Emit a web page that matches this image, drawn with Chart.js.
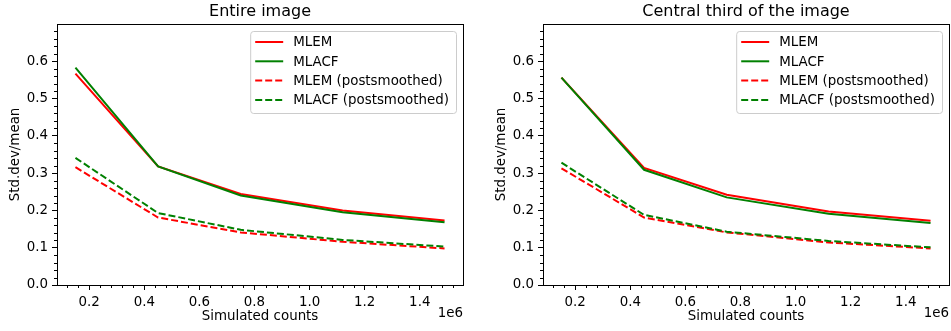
<!DOCTYPE html>
<html lang="en">
<head>
  <meta charset="UTF-8">
  <title>Std.dev/mean vs simulated counts</title>
  <script src="https://cdn.jsdelivr.net/npm/chart.js"></script>
  <style>
    body {
      margin: 0;
      background: #fff;
    }
    .panel {
      position: absolute;
      top: 0;
    }
  </style>
</head>
<body>

<div class="panel" style="left:0"><canvas id="chart1" width="480" height="331"></canvas></div>
<div class="panel" style="left:480px"><canvas id="chart2" width="471" height="331"></canvas></div>

<script>
  // x values: simulated counts
  const counts = [150000, 450000, 750000, 1120000, 1490000];

  // entire image
  const mlemEntire        = [0.567, 0.318, 0.244, 0.200, 0.173];
  const mlacfEntire       = [0.583, 0.318, 0.240, 0.195, 0.168];
  const mlemSmoothEntire  = [0.316, 0.181, 0.141, 0.116, 0.098];
  const mlacfSmoothEntire = [0.341, 0.193, 0.148, 0.121, 0.103];

  // central third of the image
  const mlemCentral        = [0.556, 0.314, 0.242, 0.197, 0.172];
  const mlacfCentral       = [0.556, 0.309, 0.235, 0.191, 0.166];
  const mlemSmoothCentral  = [0.313, 0.181, 0.141, 0.114, 0.098];
  const mlacfSmoothCentral = [0.328, 0.188, 0.143, 0.118, 0.101];

  const seriesNames = ["MLEM", "MLACF", "MLEM (postsmoothed)", "MLACF (postsmoothed)"];
  const seriesColors = ["#ff0000", "#008000", "#ff0000", "#008000"];
  const seriesDashed = [false, false, true, true];

  const yMajorTicks = [0.0, 0.1, 0.2, 0.3, 0.4, 0.5, 0.6];
  const xMajorTicks = [0.2, 0.4, 0.6, 0.8, 1.0, 1.2, 1.4];

  const FONT = "'DejaVu Sans', sans-serif";
  const FS = 13.4;

  // box, minor ticks, title, offset text and legend, drawn like matplotlib
  const mplDecor = {
    id: "mplDecor",
    afterDraw(chart) {
      const ctx = chart.ctx;
      const a = chart.chartArea;
      const xs = chart.scales.x, ys = chart.scales.y;
      ctx.save();

      // minor ticks
      ctx.strokeStyle = "#000";
      ctx.lineWidth = 1;
      ctx.beginPath();
      for (let i = 2; i < 40; i++) {
        const v = i * 0.04;
        if (Math.abs(v / 0.2 - Math.round(v / 0.2)) < 1e-6) continue;
        if (v * 1e6 < xs.min || v * 1e6 > xs.max) continue;
        const px = Math.round(xs.getPixelForValue(v * 1e6)) + 0.5;
        ctx.moveTo(px, a.bottom);
        ctx.lineTo(px, a.bottom + 3);
      }
      for (let i = 1; i < 35; i++) {
        const v = i * 0.02;
        if (i % 5 === 0) continue;
        if (v > ys.max) continue;
        const py = Math.round(ys.getPixelForValue(v)) + 0.5;
        ctx.moveTo(a.left, py);
        ctx.lineTo(a.left - 3, py);
      }
      ctx.stroke();

      // axes box
      ctx.strokeStyle = "#000";
      ctx.lineWidth = 1;
      ctx.strokeRect(Math.round(a.left) + 0.5, Math.round(a.top) + 0.5,
        Math.round(a.right - a.left), Math.round(a.bottom - a.top));

      // title
      ctx.fillStyle = "#000";
      ctx.font = "16px " + FONT;
      ctx.textAlign = "center";
      ctx.textBaseline = "middle";
      ctx.fillText(chart.options.plugins.mplDecor.title, (a.left + a.right) / 2, 12);

      // offset text
      ctx.font = FS + "px " + FONT;
      ctx.textAlign = "right";
      ctx.fillText("1e6", a.right, 314);

      // legend
      ctx.font = FS + "px " + FONT;
      let tw = 0;
      seriesNames.forEach(n => { tw = Math.max(tw, ctx.measureText(n).width); });
      const bw = 43 + tw + 7;
      const bh = 82;
      const bx = a.right - 7 - bw;
      const by = a.top + 7;
      ctx.beginPath();
      ctx.roundRect(bx + 0.5, by + 0.5, bw, bh, 3);
      ctx.fillStyle = "rgba(255,255,255,0.8)";
      ctx.fill();
      ctx.strokeStyle = "#cccccc";
      ctx.lineWidth = 1;
      ctx.stroke();
      seriesNames.forEach((n, i) => {
        const ly = by + 11 + i * 19.3;
        ctx.beginPath();
        ctx.strokeStyle = seriesColors[i];
        ctx.lineWidth = 2;
        ctx.setLineDash(seriesDashed[i] ? [7, 3] : []);
        ctx.moveTo(bx + 5, ly);
        ctx.lineTo(bx + 33, ly);
        ctx.stroke();
        ctx.setLineDash([]);
        ctx.fillStyle = "#000";
        ctx.textAlign = "left";
        ctx.textBaseline = "middle";
        ctx.fillText(n, bx + 43, ly + 1);
      });

      ctx.restore();
    }
  };

  function createChart(canvasId, title, series, yAxisWidth, yTitlePad, rightPad) {
    const ctx = document.getElementById(canvasId).getContext("2d");
    return new Chart(ctx, {
      type: "line",
      data: {
        datasets: series.map((vals, i) => ({
          label: seriesNames[i],
          data: counts.map((c, j) => ({ x: c, y: vals[j] })),
          borderColor: seriesColors[i],
          backgroundColor: seriesColors[i],
          borderWidth: 2,
          borderDash: seriesDashed[i] ? [7, 3] : [],
          pointRadius: 0,
          fill: false,
          tension: 0,
          order: 4 - i
        }))
      },
      options: {
        responsive: false,
        animation: false,
        layout: { padding: { top: 24, right: rightPad, left: 0, bottom: 0 } },
        plugins: {
          legend: { display: false },
          tooltip: { enabled: false },
          mplDecor: { title: title }
        },
        scales: {
          x: {
            type: "linear",
            min: 83000,
            max: 1557000,
            afterFit: s => { s.height = 46; },
            afterBuildTicks: s => { s.ticks = xMajorTicks.map(v => ({ value: v * 1e6 })); },
            ticks: {
              callback: v => (v / 1e6).toFixed(1),
              color: "#000",
              font: { family: FONT, size: FS },
              padding: 4,
              maxRotation: 0,
              autoSkip: false
            },
            grid: { drawOnChartArea: false, drawTicks: true, tickLength: 5, tickColor: "#000" },
            border: { display: true, color: "#000", width: 1 },
            title: {
              display: true,
              text: "Simulated counts",
              color: "#000",
              font: { family: FONT, size: FS },
              padding: { top: 0, bottom: 6 }
            }
          },
          y: {
            min: 0,
            max: 0.7,
            afterFit: s => { s.width = yAxisWidth; },
            afterBuildTicks: s => { s.ticks = yMajorTicks.map(v => ({ value: v })); },
            ticks: {
              callback: v => v.toFixed(1),
              color: "#000",
              font: { family: FONT, size: FS },
              padding: 4,
              autoSkip: false
            },
            grid: { drawOnChartArea: false, drawTicks: true, tickLength: 5, tickColor: "#000" },
            border: { display: true, color: "#000", width: 1 },
            title: {
              display: true,
              text: "Std.dev/mean",
              color: "#000",
              font: { family: FONT, size: FS },
              padding: { top: yTitlePad, bottom: 0 }
            }
          }
        }
      },
      plugins: [mplDecor]
    });
  }

  createChart("chart1", "Entire image",
    [mlemEntire, mlacfEntire, mlemSmoothEntire, mlacfSmoothEntire], 57, 7, 17);
  createChart("chart2", "Central third of the image",
    [mlemCentral, mlacfCentral, mlemSmoothCentral, mlacfSmoothCentral], 63, 13, 2);
</script>

</body>
</html>
